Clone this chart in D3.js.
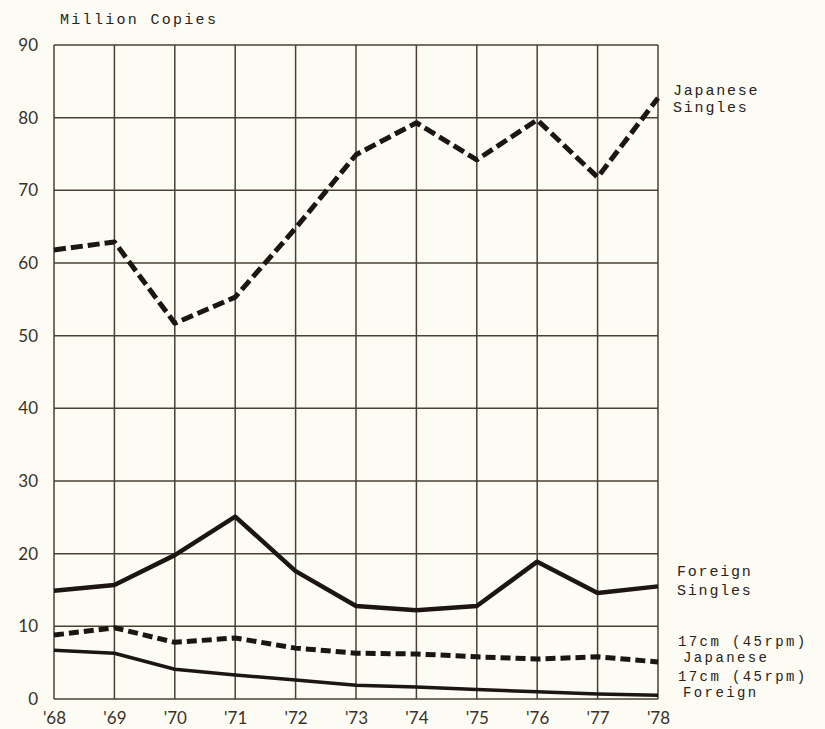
<!DOCTYPE html>
<html><head><meta charset="utf-8">
<script src="https://cdn.jsdelivr.net/npm/d3@7"></script>
<style>
html,body{margin:0;padding:0;background:#fcfcf4;}
svg{display:block;}
</style></head>
<body>
<svg id="c" width="825" height="729"></svg>
<script>
const years = ["'68","'69","'70","'71","'72","'73","'74","'75","'76","'77","'78"];
const yTicks = [0,10,20,30,40,50,60,70,80,90];
const japaneseSingles = [61.8,62.9,51.7,55.3,64.8,74.9,79.3,74.2,79.7,71.8,82.7];
const foreignSingles = [14.9,15.7,19.8,25.1,17.6,12.8,12.2,12.8,18.9,14.6,15.5];
const jp17cm = [8.8,9.8,7.8,8.4,7.0,6.3,6.2,5.8,5.5,5.8,5.1];
const foreign17cm = [6.7,6.3,4.1,3.3,2.6,1.9,1.65,1.3,1.0,0.7,0.5];

const svg = d3.select("#c");
const x = d3.scalePoint().domain(years).range([54,658]);
const y = d3.scaleLinear().domain([0,90]).range([699,45]);
const gridCol = "#4a4034";
const ink = "#1c1511";
const mono = "'Liberation Mono','DejaVu Sans Mono',monospace";
const sans = "Lato,'Noto Sans',sans-serif";

// grid
svg.append("g").selectAll("line").data(yTicks).join("line")
  .attr("x1",x.range()[0]).attr("x2",x.range()[1])
  .attr("y1",d=>y(d)).attr("y2",d=>y(d))
  .attr("stroke",gridCol).attr("stroke-width",1.5);
svg.append("g").selectAll("line").data(years).join("line")
  .attr("x1",d=>x(d)).attr("x2",d=>x(d))
  .attr("y1",y(0)).attr("y2",y(90))
  .attr("stroke",gridCol).attr("stroke-width",1.5);

// axes
const yAxis = d3.axisLeft(y).tickValues(yTicks).tickSize(0).tickPadding(16);
const gy = svg.append("g").attr("transform",`translate(${x.range()[0]},0)`).call(yAxis);
gy.select(".domain").remove();
gy.selectAll("text").attr("font-family",sans).attr("font-size",17).attr("fill","#3a3128");

const xAxis = d3.axisBottom(x).tickSize(0).tickPadding(13);
const gx = svg.append("g").attr("transform",`translate(0,${y(0)})`).call(xAxis);
gx.select(".domain").remove();
gx.selectAll("text").attr("font-family",sans).attr("font-size",17).attr("fill","#3a3128");

// lines
const line = d3.line().x((d,i)=>x(years[i])).y(d=>y(d));
function draw(data, w, dash){
  svg.append("path").datum(data).attr("d",line)
    .attr("fill","none").attr("stroke",ink).attr("stroke-width",w)
    .attr("stroke-linejoin","round")
    .attr("stroke-dasharray",dash||null);
}
draw(foreign17cm,3.5);
draw(jp17cm,5,"10,5");
draw(foreignSingles,4.5);
draw(japaneseSingles,5,"12,5");

// texts
function txt(s,xx,yy,fs,ls){
  svg.append("text").attr("x",xx).attr("y",yy).text(s)
    .attr("font-family",mono).attr("font-size",fs).attr("letter-spacing",ls)
    .attr("fill","#2a2119");
}
txt("Million Copies",60,24,15,2.3);
txt("Japanese",673,95,15,1.8);
txt("Singles",673,112,15,1.8);
txt("Foreign",677,576,15,1.8);
txt("Singles",677,595,15,1.8);
txt("17cm (45rpm)",678,646,14,2.4);
txt("Japanese",683,662,14,2.4);
txt("17cm (45rpm)",678,681,14,2.4);
txt("Foreign",683,697,14,2.4);
</script>
</body></html>
